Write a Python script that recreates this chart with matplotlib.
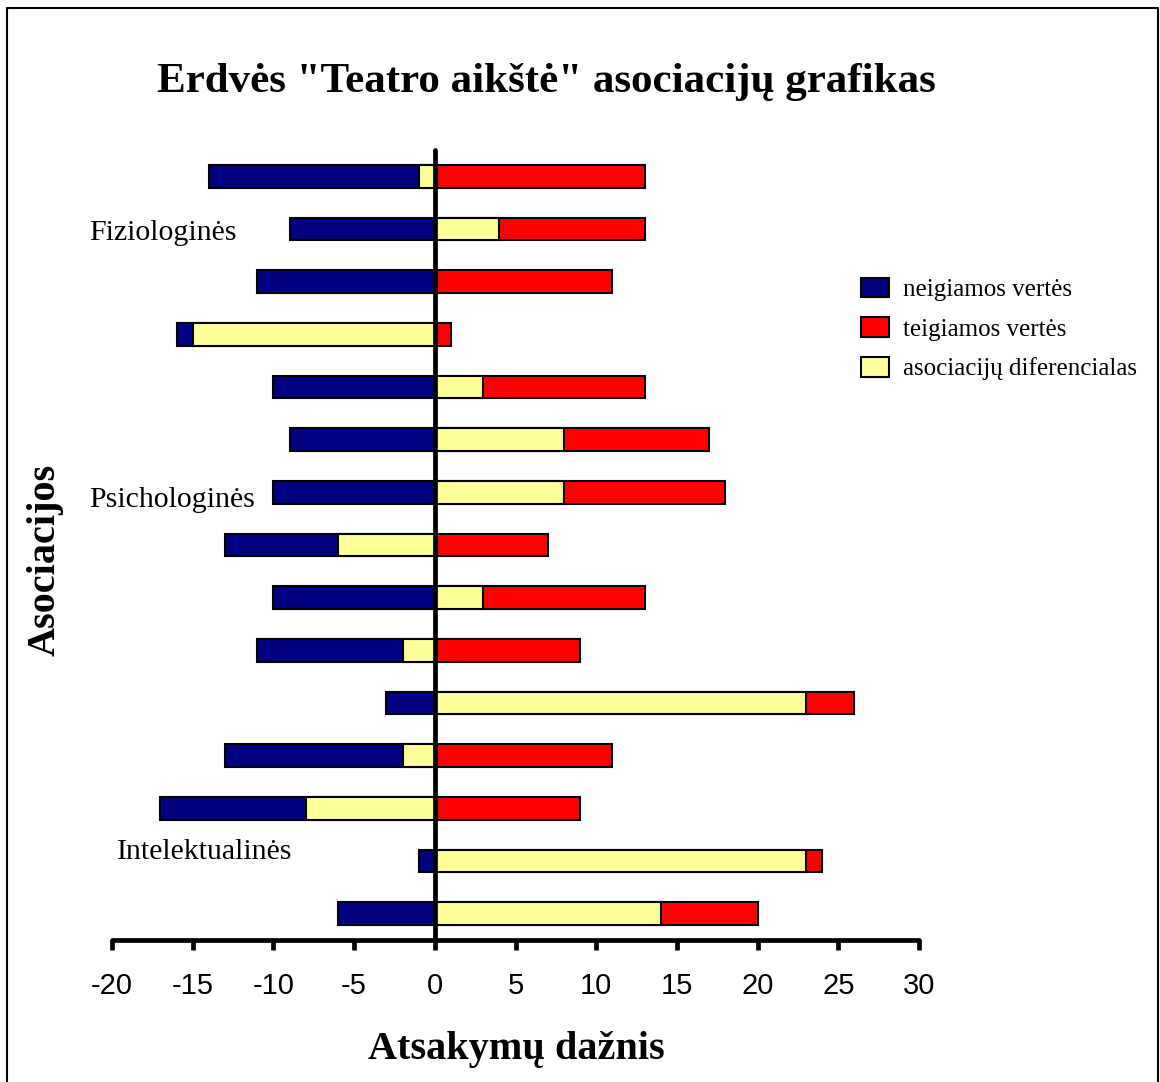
import numpy as np
import matplotlib.pyplot as plt
from matplotlib.lines import Line2D
from matplotlib.patches import Patch

# duomenys (iš viršaus į apačią)
neigiamos = [-14, -9, -11, -16, -10, -9, -10, -13, -10, -11, -3, -13, -17, -1, -6]
teigiamos = [13, 13, 11, 1, 13, 17, 18, 7, 13, 9, 26, 11, 9, 24, 20]
diferencialas = [-1, 4, 0, -15, 3, 8, 8, -6, 3, -2, 23, -2, -8, 23, 14]

grupes = ["Fiziologinės", "Psichologinės", "Intelektualinės"]
grupiu_eil = [1.07, 6.15, 12.83]
grupiu_x = [-21.4, -21.4, -19.7]
legendos = ["neigiamos vertės", "teigiamos vertės", "asociacijų diferencialas"]
xticks = [-20, -15, -10, -5, 0, 5, 10, 15, 20, 25, 30]

serif = "Liberation Serif"
sans = "Liberation Sans"

fig = plt.figure(figsize=(11.6, 10.82), dpi=100)
ax = fig.add_axes([112/1160, 1-940/1082, (919-112)/1160, 790/1082])

y = np.arange(len(neigiamos))
h = 0.43
ax.barh(y, neigiamos, height=h, color="#000080", edgecolor="black", linewidth=1.5, zorder=2)
ax.barh(y, teigiamos, height=h, color="#FF0000", edgecolor="black", linewidth=1.5, zorder=2)
ax.barh(y, diferencialas, height=h, color="#FFFF99", edgecolor="black", linewidth=1.5, zorder=3)

# vertikali ašis per nulį
ax.axvline(0, color="black", lw=3.4, solid_capstyle="round", zorder=5, clip_on=False)

ax.set_xlim(-20, 30)
ax.set_ylim(len(neigiamos)-0.5, -0.5)
ax.set_xticks(xticks)
ax.set_xticklabels([str(t) for t in xticks], fontfamily=sans, fontsize=21)
ax.set_yticks([])
for s in ["left", "top", "right"]:
    ax.spines[s].set_visible(False)
ax.spines["bottom"].set_linewidth(3.4)
ax.spines["bottom"].set_capstyle("round")
ax.tick_params(axis="x", direction="out", length=7, width=3.4, pad=16)

for nm, xx, r in zip(grupes, grupiu_x, grupiu_eil):
    ax.text(xx, r, nm, fontfamily=serif, fontsize=21.5, va="center", ha="left")

fig.text(546/1160, 1-82/1082, 'Erdvės "Teatro aikštė" asociacijų grafikas',
         fontfamily=serif, fontweight="bold", fontsize=31, ha="center", va="center")
fig.text(516/1160, 1-1050/1082, "Atsakymų dažnis", fontfamily=serif,
         fontweight="bold", fontsize=29, ha="center", va="center")
fig.text(45/1160, 1-560/1082, "Asociacijos", fontfamily=serif, fontweight="bold",
         fontsize=29, ha="center", va="center", rotation=90)

# legenda
spalvos = ["#000080", "#FF0000", "#FFFF99"]
handles = [Patch(facecolor=c, edgecolor="black", linewidth=1.5) for c in spalvos]
fig.legend(handles, legendos, loc="upper left", bbox_to_anchor=(848/1160, 1-265/1082),
           frameon=False, prop={"family": serif, "size": 18}, handlelength=1.15,
           handleheight=0.85, handletextpad=0.55, labelspacing=0.64, borderpad=0)

# rėmelis
fig.add_artist(Line2D([7/1160, 7/1160, 1158/1160, 1158/1160], [0, 1-8/1082, 1-8/1082, 0],
                      color="black", lw=1.5, transform=fig.transFigure))

fig.savefig("out.png", dpi=100)
